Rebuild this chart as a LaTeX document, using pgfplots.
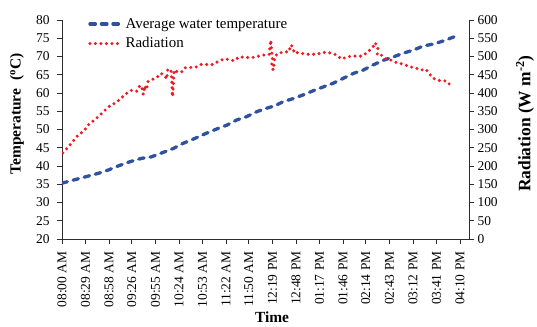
\documentclass[border=0pt]{standalone}
\usepackage{fontspec}
\setmainfont{Liberation Serif}
\usepackage{pgfplots}
\pgfplotsset{compat=1.18}
\definecolor{tblue}{RGB}{46,82,160}
\definecolor{rred}{RGB}{237,28,36}
\definecolor{axgray}{RGB}{45,45,45}
\tikzset{
  tempstyle/.style={tblue, line width=3.3bp, line cap=round, dash pattern=on 5.5bp off 6bp},
  radstyle/.style={rred, line width=3.4bp, line cap=round, dash pattern=on 0bp off 5.5bp}
}
\pgfplotsset{common/.style={
  width=407bp, height=219bp, scale only axis,
  xmin=0, xmax=501,
  xtick={0,29,58,86,115,144,173,202,230,259,288,317,346,374,403,432,461,490},
  tick align=outside, major tick length=5bp,
  axis line style={axgray, line width=0.8bp},
  tick style={axgray, line width=0.8bp},
  /pgf/number format/assume math mode=true,
  ticklabel style={font=\fontsize{13.5}{16}\selectfont},
  label style={font=\fontsize{15.5}{18}\selectfont\bfseries},
}}
\begin{document}
\begin{tikzpicture}
\begin{axis}[common,
  axis x line*=bottom, axis y line*=left,
  ymin=20, ymax=80, ytick={20,25,...,80},
  yticklabel style={xshift=-4bp},
  xticklabels={08:00 AM,08:29 AM,08:58 AM,09:26 AM,09:55 AM,10:24 AM,10:53 AM,11:22 AM,11:50 AM,12:19 PM,12:48 PM,01:17 PM,01:46 PM,02:14 PM,02:43 PM,03:12 PM,03:41 PM,04:10 PM},
  xticklabel style={rotate=90, anchor=east},
  xticklabel shift=4bp,
  xlabel={Time},
  xlabel style={at={(axis description cs:0.516,-0.355)}, anchor=center},
  ylabel={Temperature~~(\textsuperscript{o}C)},
  ylabel style={at={(axis description cs:-0.1106,0.571)}, anchor=center},
  legend style={draw=none, fill=none, at={(0.064,1.018)}, anchor=north west, inner sep=0pt,
    font=\fontsize{15}{18}\selectfont, row sep=4bp},
  legend cell align=left,
  legend image code/.code={\draw[#1] (0bp,0bp) -- (32bp,0bp);},
]
\addplot[tempstyle, no markers] coordinates {
(0,35.3) (30,37.1) (45,38.0) (57,38.9) (69,40.0) (84,41.2) (98,42.1) (110,42.5)
(123,43.6) (137,44.8) (149,46.2) (164,47.6) (178,49.0) (190,50.1) (203,51.2)
(215,52.6) (227,53.5) (240,54.9) (250,55.7) (262,56.5) (272,57.6) (285,58.5)
(297,59.5) (309,60.6) (322,61.7) (334,62.7) (346,64.0) (359,65.4) (371,66.3)
(383,67.7) (396,69.0) (408,69.9) (420,70.9) (433,71.8) (445,72.9) (457,73.4)
(470,74.3) (485,75.6)
};
\addlegendentry{Average water temperature}
\addlegendimage{radstyle}
\addlegendentry{Radiation}
\end{axis}
\begin{axis}[common,
  axis x line=none, axis y line*=right,
  ymin=0, ymax=600, ytick={0,50,...,600},
  ylabel={Radiation (W m\textsuperscript{-2})},
  ylabel style={at={(axis description cs:1.1376,0.527)}, anchor=center, font=\fontsize{17.5}{20}\selectfont\bfseries},
]
\addplot[radstyle, no markers] coordinates {
(1,236) (8,253) (14,269) (20,285) (27,296) (33,314) (41,328) (47,340) (53,353)
(59,365) (66,373) (72,384) (78,397) (86,408) (92,405) (96,421) (98,418) (100,396)
(102,420) (104,409) (106,432) (112,438) (117,443) (122,454) (127,445) (129,438)
(130,463) (134,465) (135,440) (135.5,418) (136,390) (137,420) (138,463) (142,458)
(147,457) (151,469) (158,470) (164,470) (171,478) (178,478) (185,478) (192,486)
(199,493) (206,492) (212,488) (218,499) (225,498) (230,497) (238,498) (246,504)
(253,504) (255,506) (257,545) (258,518) (259,495) (258,484) (259,468) (260,463)
(261,478) (262,500) (266,509) (275,513) (279,512) (282,532) (284,525) (286,509)
(288,511) (294,509) (301,506) (307,506) (314,506) (320,511) (326,511) (332,509)
(338,504) (344,493) (351,499) (357,501) (363,501) (369,501) (376,511) (383,527)
(385,538) (387,532) (389,527) (388,504) (393,504) (399,492) (405,490) (412,483)
(420,479) (428,472) (435,469) (442,463) (448,465) (451,456) (457,440) (465,434)
(473,433) (480,417)
};
\end{axis}
\pgfresetboundingbox
\path (-62bp,-88bp) rectangle (475bp,239bp);
\end{tikzpicture}
\end{document}
